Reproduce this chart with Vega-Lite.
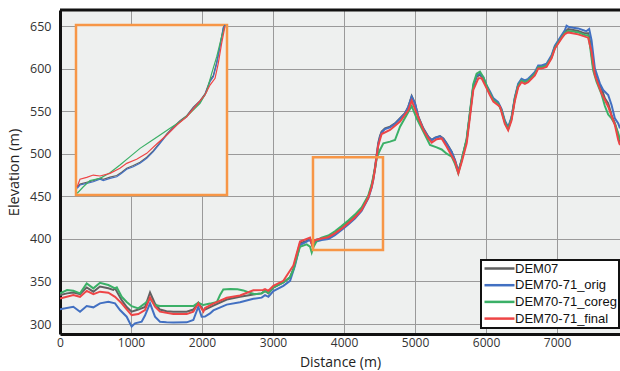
{
  "$schema": "https://vega.github.io/schema/vega-lite/v6.json",
  "width": 560,
  "height": 324,
  "autosize": "none",
  "padding": {"left": 60, "top": 10, "right": 0, "bottom": 37},
  "background": "white",
  "config": {
    "view": {"fill": "#eef0ef", "stroke": null},
    "font": "Open Sans",
    "axis": {
      "grid": true, "gridColor": "#9a9a9a", "gridWidth": 1,
      "domainColor": "#111111", "domainWidth": 3,
      "ticks": false, "labelFlush": false, "format": "d",
      "labelFont": "Open Sans", "labelFontSize": 12.5, "labelColor": "#333333",
      "titleFont": "Open Sans", "titleFontSize": 14.5, "titleFontWeight": "normal", "titleColor": "#222222"
    }
  },
  "datasets": {
    "box": [{"xs": 3563, "xe": 4549, "ys": 387, "ye": 496}],
    "main": [
      {"series":"DEM07","dist":0,"elev":334},{"series":"DEM07","dist":100,"elev":336},{"series":"DEM07","dist":188,"elev":337},{"series":"DEM07","dist":282,"elev":335},{"series":"DEM07","dist":376,"elev":343},{"series":"DEM07","dist":470,"elev":338},{"series":"DEM07","dist":563,"elev":344},{"series":"DEM07","dist":681,"elev":342},{"series":"DEM07","dist":750,"elev":340},{"series":"DEM07","dist":775,"elev":342},{"series":"DEM07","dist":869,"elev":328},{"series":"DEM07","dist":939,"elev":320},{"series":"DEM07","dist":1009,"elev":314.5},{"series":"DEM07","dist":1103,"elev":317},{"series":"DEM07","dist":1197,"elev":320},{"series":"DEM07","dist":1268,"elev":337},{"series":"DEM07","dist":1338,"elev":324},{"series":"DEM07","dist":1408,"elev":317},{"series":"DEM07","dist":1500,"elev":315},{"series":"DEM07","dist":1596,"elev":314.5},{"series":"DEM07","dist":1784,"elev":314.5},{"series":"DEM07","dist":1878,"elev":317},{"series":"DEM07","dist":1948,"elev":325},{"series":"DEM07","dist":2019,"elev":316},{"series":"DEM07","dist":2042,"elev":317},{"series":"DEM07","dist":2160,"elev":321.6},{"series":"DEM07","dist":2348,"elev":328.8},{"series":"DEM07","dist":2535,"elev":332},{"series":"DEM07","dist":2723,"elev":334.8},{"series":"DEM07","dist":2840,"elev":336},{"series":"DEM07","dist":2888,"elev":339},{"series":"DEM07","dist":2935,"elev":336},{"series":"DEM07","dist":3005,"elev":342.8},{"series":"DEM07","dist":3146,"elev":348.8},{"series":"DEM07","dist":3240,"elev":354.8},{"series":"DEM07","dist":3287,"elev":364.8},{"series":"DEM07","dist":3334,"elev":380.8},{"series":"DEM07","dist":3380,"elev":394.8},{"series":"DEM07","dist":3474,"elev":397.6},{"series":"DEM07","dist":3521,"elev":400},{"series":"DEM07","dist":3553,"elev":393},{"series":"DEM07","dist":3591,"elev":398.7},{"series":"DEM07","dist":3685,"elev":400.7},{"series":"DEM07","dist":3779,"elev":401.8},{"series":"DEM07","dist":3872,"elev":406.5},{"series":"DEM07","dist":3966,"elev":412.4},{"series":"DEM07","dist":4060,"elev":419.1},{"series":"DEM07","dist":4154,"elev":426.1},{"series":"DEM07","dist":4248,"elev":434.7},{"series":"DEM07","dist":4342,"elev":449},{"series":"DEM07","dist":4389,"elev":462},{"series":"DEM07","dist":4413,"elev":472},{"series":"DEM07","dist":4436,"elev":484},{"series":"DEM07","dist":4460,"elev":499},{"series":"DEM07","dist":4483,"elev":513},{"series":"DEM07","dist":4507,"elev":521},{"series":"DEM07","dist":4530,"elev":526},{"series":"DEM07","dist":4577,"elev":529.9},{"series":"DEM07","dist":4648,"elev":531.8},{"series":"DEM07","dist":4718,"elev":535.7},{"series":"DEM07","dist":4789,"elev":541.6},{"series":"DEM07","dist":4859,"elev":547.5},{"series":"DEM07","dist":4906,"elev":555.3},{"series":"DEM07","dist":4953,"elev":567.8},{"series":"DEM07","dist":5000,"elev":559.2},{"series":"DEM07","dist":5047,"elev":543.5},{"series":"DEM07","dist":5117,"elev":529.9},{"series":"DEM07","dist":5188,"elev":520},{"series":"DEM07","dist":5235,"elev":516.1},{"series":"DEM07","dist":5282,"elev":518.9},{"series":"DEM07","dist":5352,"elev":520.8},{"series":"DEM07","dist":5399,"elev":518},{"series":"DEM07","dist":5446,"elev":512.2},{"series":"DEM07","dist":5516,"elev":502.4},{"series":"DEM07","dist":5563,"elev":492.6},{"series":"DEM07","dist":5610,"elev":479},{"series":"DEM07","dist":5657,"elev":492.6},{"series":"DEM07","dist":5728,"elev":516.1},{"series":"DEM07","dist":5775,"elev":547.5},{"series":"DEM07","dist":5821,"elev":578.8},{"series":"DEM07","dist":5868,"elev":590.5},{"series":"DEM07","dist":5915,"elev":592.5},{"series":"DEM07","dist":5962,"elev":588.6},{"series":"DEM07","dist":6009,"elev":578.8},{"series":"DEM07","dist":6054,"elev":572},{"series":"DEM07","dist":6101,"elev":564},{"series":"DEM07","dist":6171,"elev":559.1},{"series":"DEM07","dist":6218,"elev":551.3},{"series":"DEM07","dist":6265,"elev":537.6},{"series":"DEM07","dist":6312,"elev":529.8},{"series":"DEM07","dist":6359,"elev":541.5},{"series":"DEM07","dist":6406,"elev":565},{"series":"DEM07","dist":6453,"elev":580.7},{"series":"DEM07","dist":6500,"elev":586.6},{"series":"DEM07","dist":6547,"elev":584.6},{"series":"DEM07","dist":6594,"elev":586.6},{"series":"DEM07","dist":6641,"elev":590.5},{"series":"DEM07","dist":6688,"elev":594.4},{"series":"DEM07","dist":6735,"elev":602.2},{"series":"DEM07","dist":6782,"elev":602.2},{"series":"DEM07","dist":6852,"elev":604.2},{"series":"DEM07","dist":6923,"elev":614},{"series":"DEM07","dist":6970,"elev":625.7},{"series":"DEM07","dist":7017,"elev":631.6},{"series":"DEM07","dist":7064,"elev":637.5},{"series":"DEM07","dist":7110,"elev":643.3},{"series":"DEM07","dist":7157,"elev":646.5},{"series":"DEM07","dist":7228,"elev":645.3},{"series":"DEM07","dist":7298,"elev":644.1},{"series":"DEM07","dist":7392,"elev":641.4},{"series":"DEM07","dist":7439,"elev":641.4},{"series":"DEM07","dist":7462,"elev":633.5},{"series":"DEM07","dist":7509,"elev":602.2},{"series":"DEM07","dist":7556,"elev":588.5},{"series":"DEM07","dist":7627,"elev":576.8},{"series":"DEM07","dist":7674,"elev":565},{"series":"DEM07","dist":7721,"elev":559.1},{"series":"DEM07","dist":7768,"elev":545.4},{"series":"DEM07","dist":7815,"elev":535.7},{"series":"DEM07","dist":7862,"elev":522},{"series":"DEM07","dist":7887,"elev":511},

      {"series":"DEM70-71_orig","dist":0,"elev":317.2},{"series":"DEM70-71_orig","dist":188,"elev":320.3},{"series":"DEM70-71_orig","dist":282,"elev":314.5},{"series":"DEM70-71_orig","dist":376,"elev":321.1},{"series":"DEM70-71_orig","dist":470,"elev":319.6},{"series":"DEM70-71_orig","dist":563,"elev":324.3},{"series":"DEM70-71_orig","dist":681,"elev":326.2},{"series":"DEM70-71_orig","dist":775,"elev":324.3},{"series":"DEM70-71_orig","dist":845,"elev":316.4},{"series":"DEM70-71_orig","dist":939,"elev":308.6},{"series":"DEM70-71_orig","dist":1009,"elev":297},{"series":"DEM70-71_orig","dist":1056,"elev":300.8},{"series":"DEM70-71_orig","dist":1150,"elev":302.7},{"series":"DEM70-71_orig","dist":1197,"elev":310},{"series":"DEM70-71_orig","dist":1268,"elev":324.3},{"series":"DEM70-71_orig","dist":1338,"elev":308.6},{"series":"DEM70-71_orig","dist":1408,"elev":302.7},{"series":"DEM70-71_orig","dist":1500,"elev":302},{"series":"DEM70-71_orig","dist":1596,"elev":301.9},{"series":"DEM70-71_orig","dist":1784,"elev":302},{"series":"DEM70-71_orig","dist":1878,"elev":304.7},{"series":"DEM70-71_orig","dist":1948,"elev":320.3},{"series":"DEM70-71_orig","dist":1995,"elev":308.6},{"series":"DEM70-71_orig","dist":2042,"elev":308.8},{"series":"DEM70-71_orig","dist":2113,"elev":312.5},{"series":"DEM70-71_orig","dist":2160,"elev":316},{"series":"DEM70-71_orig","dist":2348,"elev":322.8},{"series":"DEM70-71_orig","dist":2535,"elev":325.6},{"series":"DEM70-71_orig","dist":2723,"elev":329.6},{"series":"DEM70-71_orig","dist":2840,"elev":331},{"series":"DEM70-71_orig","dist":2888,"elev":334},{"series":"DEM70-71_orig","dist":2935,"elev":332},{"series":"DEM70-71_orig","dist":3005,"elev":338.8},{"series":"DEM70-71_orig","dist":3146,"elev":344.8},{"series":"DEM70-71_orig","dist":3240,"elev":350.8},{"series":"DEM70-71_orig","dist":3310,"elev":368.8},{"series":"DEM70-71_orig","dist":3380,"elev":392.8},{"series":"DEM70-71_orig","dist":3474,"elev":396.8},{"series":"DEM70-71_orig","dist":3521,"elev":399},{"series":"DEM70-71_orig","dist":3553,"elev":393},{"series":"DEM70-71_orig","dist":3591,"elev":396.5},{"series":"DEM70-71_orig","dist":3685,"elev":398.7},{"series":"DEM70-71_orig","dist":3779,"elev":399.8},{"series":"DEM70-71_orig","dist":3872,"elev":404.5},{"series":"DEM70-71_orig","dist":3966,"elev":410.4},{"series":"DEM70-71_orig","dist":4060,"elev":417},{"series":"DEM70-71_orig","dist":4154,"elev":424},{"series":"DEM70-71_orig","dist":4248,"elev":432.7},{"series":"DEM70-71_orig","dist":4342,"elev":447.5},{"series":"DEM70-71_orig","dist":4389,"elev":460},{"series":"DEM70-71_orig","dist":4413,"elev":470},{"series":"DEM70-71_orig","dist":4436,"elev":482},{"series":"DEM70-71_orig","dist":4460,"elev":497},{"series":"DEM70-71_orig","dist":4483,"elev":511},{"series":"DEM70-71_orig","dist":4507,"elev":519.5},{"series":"DEM70-71_orig","dist":4530,"elev":525},{"series":"DEM70-71_orig","dist":4577,"elev":529},{"series":"DEM70-71_orig","dist":4648,"elev":531},{"series":"DEM70-71_orig","dist":4718,"elev":535},{"series":"DEM70-71_orig","dist":4789,"elev":541},{"series":"DEM70-71_orig","dist":4859,"elev":547},{"series":"DEM70-71_orig","dist":4906,"elev":555},{"series":"DEM70-71_orig","dist":4953,"elev":567},{"series":"DEM70-71_orig","dist":5000,"elev":559},{"series":"DEM70-71_orig","dist":5047,"elev":543},{"series":"DEM70-71_orig","dist":5117,"elev":529},{"series":"DEM70-71_orig","dist":5188,"elev":519.5},{"series":"DEM70-71_orig","dist":5235,"elev":516},{"series":"DEM70-71_orig","dist":5282,"elev":518.5},{"series":"DEM70-71_orig","dist":5352,"elev":520.5},{"series":"DEM70-71_orig","dist":5399,"elev":517.5},{"series":"DEM70-71_orig","dist":5446,"elev":511.5},{"series":"DEM70-71_orig","dist":5516,"elev":502},{"series":"DEM70-71_orig","dist":5563,"elev":492},{"series":"DEM70-71_orig","dist":5610,"elev":479},{"series":"DEM70-71_orig","dist":5657,"elev":492.6},{"series":"DEM70-71_orig","dist":5728,"elev":516.5},{"series":"DEM70-71_orig","dist":5775,"elev":548},{"series":"DEM70-71_orig","dist":5821,"elev":579.5},{"series":"DEM70-71_orig","dist":5868,"elev":592},{"series":"DEM70-71_orig","dist":5915,"elev":594},{"series":"DEM70-71_orig","dist":5962,"elev":590},{"series":"DEM70-71_orig","dist":6009,"elev":580},{"series":"DEM70-71_orig","dist":6054,"elev":573.5},{"series":"DEM70-71_orig","dist":6101,"elev":565.5},{"series":"DEM70-71_orig","dist":6171,"elev":560.6},{"series":"DEM70-71_orig","dist":6218,"elev":552.8},{"series":"DEM70-71_orig","dist":6265,"elev":539},{"series":"DEM70-71_orig","dist":6312,"elev":531.3},{"series":"DEM70-71_orig","dist":6359,"elev":543},{"series":"DEM70-71_orig","dist":6406,"elev":566.5},{"series":"DEM70-71_orig","dist":6453,"elev":582.2},{"series":"DEM70-71_orig","dist":6500,"elev":588},{"series":"DEM70-71_orig","dist":6547,"elev":586},{"series":"DEM70-71_orig","dist":6594,"elev":588},{"series":"DEM70-71_orig","dist":6641,"elev":592},{"series":"DEM70-71_orig","dist":6688,"elev":596},{"series":"DEM70-71_orig","dist":6735,"elev":603.7},{"series":"DEM70-71_orig","dist":6782,"elev":603.7},{"series":"DEM70-71_orig","dist":6852,"elev":605.7},{"series":"DEM70-71_orig","dist":6923,"elev":615.5},{"series":"DEM70-71_orig","dist":6970,"elev":627},{"series":"DEM70-71_orig","dist":7017,"elev":633},{"series":"DEM70-71_orig","dist":7064,"elev":639},{"series":"DEM70-71_orig","dist":7110,"elev":645},{"series":"DEM70-71_orig","dist":7134,"elev":650.4},{"series":"DEM70-71_orig","dist":7157,"elev":649.2},{"series":"DEM70-71_orig","dist":7228,"elev":648},{"series":"DEM70-71_orig","dist":7298,"elev":647.2},{"series":"DEM70-71_orig","dist":7392,"elev":644.5},{"series":"DEM70-71_orig","dist":7416,"elev":644.1},{"series":"DEM70-71_orig","dist":7453,"elev":646.5},{"series":"DEM70-71_orig","dist":7486,"elev":633.5},{"series":"DEM70-71_orig","dist":7533,"elev":600.3},{"series":"DEM70-71_orig","dist":7603,"elev":582.6},{"series":"DEM70-71_orig","dist":7650,"elev":574.8},{"series":"DEM70-71_orig","dist":7721,"elev":568.9},{"series":"DEM70-71_orig","dist":7768,"elev":557.2},{"series":"DEM70-71_orig","dist":7815,"elev":541.5},{"series":"DEM70-71_orig","dist":7862,"elev":535.7},{"series":"DEM70-71_orig","dist":7887,"elev":529.8},

      {"series":"DEM70-71_coreg","dist":0,"elev":336},{"series":"DEM70-71_coreg","dist":100,"elev":340},{"series":"DEM70-71_coreg","dist":188,"elev":339},{"series":"DEM70-71_coreg","dist":282,"elev":336},{"series":"DEM70-71_coreg","dist":376,"elev":347.7},{"series":"DEM70-71_coreg","dist":470,"elev":341.9},{"series":"DEM70-71_coreg","dist":563,"elev":348.5},{"series":"DEM70-71_coreg","dist":681,"elev":345.8},{"series":"DEM70-71_coreg","dist":775,"elev":341.9},{"series":"DEM70-71_coreg","dist":800,"elev":343},{"series":"DEM70-71_coreg","dist":869,"elev":332},{"series":"DEM70-71_coreg","dist":939,"elev":326},{"series":"DEM70-71_coreg","dist":1009,"elev":321},{"series":"DEM70-71_coreg","dist":1103,"elev":318.4},{"series":"DEM70-71_coreg","dist":1197,"elev":324.3},{"series":"DEM70-71_coreg","dist":1268,"elev":330},{"series":"DEM70-71_coreg","dist":1338,"elev":322.3},{"series":"DEM70-71_coreg","dist":1408,"elev":321.1},{"series":"DEM70-71_coreg","dist":1600,"elev":321.1},{"series":"DEM70-71_coreg","dist":1878,"elev":321.1},{"series":"DEM70-71_coreg","dist":1948,"elev":325},{"series":"DEM70-71_coreg","dist":2019,"elev":322.3},{"series":"DEM70-71_coreg","dist":2113,"elev":324},{"series":"DEM70-71_coreg","dist":2210,"elev":326},{"series":"DEM70-71_coreg","dist":2254,"elev":334},{"series":"DEM70-71_coreg","dist":2300,"elev":340.5},{"series":"DEM70-71_coreg","dist":2400,"elev":341},{"series":"DEM70-71_coreg","dist":2500,"elev":340.8},{"series":"DEM70-71_coreg","dist":2582,"elev":339.5},{"series":"DEM70-71_coreg","dist":2660,"elev":337},{"series":"DEM70-71_coreg","dist":2747,"elev":335},{"series":"DEM70-71_coreg","dist":2840,"elev":336},{"series":"DEM70-71_coreg","dist":2888,"elev":339},{"series":"DEM70-71_coreg","dist":2935,"elev":336.5},{"series":"DEM70-71_coreg","dist":3005,"elev":343},{"series":"DEM70-71_coreg","dist":3146,"elev":349},{"series":"DEM70-71_coreg","dist":3240,"elev":355},{"series":"DEM70-71_coreg","dist":3287,"elev":364},{"series":"DEM70-71_coreg","dist":3334,"elev":378},{"series":"DEM70-71_coreg","dist":3380,"elev":390.8},{"series":"DEM70-71_coreg","dist":3474,"elev":393.6},{"series":"DEM70-71_coreg","dist":3521,"elev":391},{"series":"DEM70-71_coreg","dist":3545,"elev":384},{"series":"DEM70-71_coreg","dist":3568,"elev":390},{"series":"DEM70-71_coreg","dist":3615,"elev":397.6},{"series":"DEM70-71_coreg","dist":3685,"elev":401.5},{"series":"DEM70-71_coreg","dist":3779,"elev":404},{"series":"DEM70-71_coreg","dist":3872,"elev":409},{"series":"DEM70-71_coreg","dist":3966,"elev":415},{"series":"DEM70-71_coreg","dist":4060,"elev":421.5},{"series":"DEM70-71_coreg","dist":4154,"elev":428.5},{"series":"DEM70-71_coreg","dist":4248,"elev":437},{"series":"DEM70-71_coreg","dist":4342,"elev":451},{"series":"DEM70-71_coreg","dist":4389,"elev":464},{"series":"DEM70-71_coreg","dist":4436,"elev":482},{"series":"DEM70-71_coreg","dist":4460,"elev":494},{"series":"DEM70-71_coreg","dist":4483,"elev":500},{"series":"DEM70-71_coreg","dist":4507,"elev":504.4},{"series":"DEM70-71_coreg","dist":4554,"elev":512.2},{"series":"DEM70-71_coreg","dist":4648,"elev":514.2},{"series":"DEM70-71_coreg","dist":4718,"elev":516.1},{"series":"DEM70-71_coreg","dist":4789,"elev":531.8},{"series":"DEM70-71_coreg","dist":4882,"elev":545.5},{"series":"DEM70-71_coreg","dist":4953,"elev":556.1},{"series":"DEM70-71_coreg","dist":5023,"elev":541.6},{"series":"DEM70-71_coreg","dist":5117,"elev":526},{"series":"DEM70-71_coreg","dist":5211,"elev":510.3},{"series":"DEM70-71_coreg","dist":5305,"elev":507.5},{"series":"DEM70-71_coreg","dist":5375,"elev":505},{"series":"DEM70-71_coreg","dist":5446,"elev":500},{"series":"DEM70-71_coreg","dist":5516,"elev":496.6},{"series":"DEM70-71_coreg","dist":5563,"elev":488},{"series":"DEM70-71_coreg","dist":5610,"elev":477},{"series":"DEM70-71_coreg","dist":5657,"elev":493},{"series":"DEM70-71_coreg","dist":5728,"elev":518},{"series":"DEM70-71_coreg","dist":5775,"elev":550},{"series":"DEM70-71_coreg","dist":5821,"elev":582},{"series":"DEM70-71_coreg","dist":5868,"elev":594},{"series":"DEM70-71_coreg","dist":5915,"elev":596.4},{"series":"DEM70-71_coreg","dist":5962,"elev":590},{"series":"DEM70-71_coreg","dist":6009,"elev":580},{"series":"DEM70-71_coreg","dist":6054,"elev":571},{"series":"DEM70-71_coreg","dist":6101,"elev":563.5},{"series":"DEM70-71_coreg","dist":6171,"elev":558.5},{"series":"DEM70-71_coreg","dist":6218,"elev":550.5},{"series":"DEM70-71_coreg","dist":6265,"elev":537},{"series":"DEM70-71_coreg","dist":6312,"elev":529},{"series":"DEM70-71_coreg","dist":6359,"elev":541},{"series":"DEM70-71_coreg","dist":6406,"elev":564.5},{"series":"DEM70-71_coreg","dist":6453,"elev":580},{"series":"DEM70-71_coreg","dist":6500,"elev":586},{"series":"DEM70-71_coreg","dist":6547,"elev":584},{"series":"DEM70-71_coreg","dist":6594,"elev":586},{"series":"DEM70-71_coreg","dist":6641,"elev":590},{"series":"DEM70-71_coreg","dist":6688,"elev":594},{"series":"DEM70-71_coreg","dist":6735,"elev":601.5},{"series":"DEM70-71_coreg","dist":6782,"elev":601.5},{"series":"DEM70-71_coreg","dist":6852,"elev":603.5},{"series":"DEM70-71_coreg","dist":6923,"elev":613},{"series":"DEM70-71_coreg","dist":6970,"elev":624.5},{"series":"DEM70-71_coreg","dist":7017,"elev":630.5},{"series":"DEM70-71_coreg","dist":7064,"elev":636.5},{"series":"DEM70-71_coreg","dist":7110,"elev":642},{"series":"DEM70-71_coreg","dist":7157,"elev":644},{"series":"DEM70-71_coreg","dist":7228,"elev":643.5},{"series":"DEM70-71_coreg","dist":7298,"elev":642.5},{"series":"DEM70-71_coreg","dist":7392,"elev":639.5},{"series":"DEM70-71_coreg","dist":7439,"elev":639},{"series":"DEM70-71_coreg","dist":7462,"elev":628},{"series":"DEM70-71_coreg","dist":7509,"elev":598},{"series":"DEM70-71_coreg","dist":7556,"elev":584.6},{"series":"DEM70-71_coreg","dist":7627,"elev":570},{"series":"DEM70-71_coreg","dist":7674,"elev":556},{"series":"DEM70-71_coreg","dist":7721,"elev":546},{"series":"DEM70-71_coreg","dist":7768,"elev":541.5},{"series":"DEM70-71_coreg","dist":7815,"elev":535},{"series":"DEM70-71_coreg","dist":7862,"elev":524},{"series":"DEM70-71_coreg","dist":7887,"elev":516},

      {"series":"DEM70-71_final","dist":0,"elev":330},{"series":"DEM70-71_final","dist":188,"elev":334},{"series":"DEM70-71_final","dist":282,"elev":332},{"series":"DEM70-71_final","dist":376,"elev":339},{"series":"DEM70-71_final","dist":470,"elev":335},{"series":"DEM70-71_final","dist":563,"elev":338},{"series":"DEM70-71_final","dist":681,"elev":336.8},{"series":"DEM70-71_final","dist":775,"elev":332},{"series":"DEM70-71_final","dist":869,"elev":324.3},{"series":"DEM70-71_final","dist":939,"elev":317.2},{"series":"DEM70-71_final","dist":1009,"elev":310.5},{"series":"DEM70-71_final","dist":1103,"elev":311.7},{"series":"DEM70-71_final","dist":1197,"elev":316.4},{"series":"DEM70-71_final","dist":1268,"elev":331.3},{"series":"DEM70-71_final","dist":1338,"elev":320.3},{"series":"DEM70-71_final","dist":1408,"elev":314.5},{"series":"DEM70-71_final","dist":1596,"elev":311.7},{"series":"DEM70-71_final","dist":1784,"elev":311.7},{"series":"DEM70-71_final","dist":1878,"elev":314.5},{"series":"DEM70-71_final","dist":1948,"elev":324.3},{"series":"DEM70-71_final","dist":2019,"elev":314.5},{"series":"DEM70-71_final","dist":2042,"elev":318.8},{"series":"DEM70-71_final","dist":2160,"elev":324},{"series":"DEM70-71_final","dist":2348,"elev":330.8},{"series":"DEM70-71_final","dist":2535,"elev":333.6},{"series":"DEM70-71_final","dist":2723,"elev":339.6},{"series":"DEM70-71_final","dist":2860,"elev":340},{"series":"DEM70-71_final","dist":2888,"elev":341},{"series":"DEM70-71_final","dist":2935,"elev":339},{"series":"DEM70-71_final","dist":3005,"elev":344.8},{"series":"DEM70-71_final","dist":3146,"elev":350.8},{"series":"DEM70-71_final","dist":3287,"elev":368.8},{"series":"DEM70-71_final","dist":3380,"elev":396.8},{"series":"DEM70-71_final","dist":3474,"elev":400},{"series":"DEM70-71_final","dist":3521,"elev":401.6},{"series":"DEM70-71_final","dist":3553,"elev":392},{"series":"DEM70-71_final","dist":3591,"elev":398.5},{"series":"DEM70-71_final","dist":3685,"elev":400.5},{"series":"DEM70-71_final","dist":3779,"elev":402},{"series":"DEM70-71_final","dist":3872,"elev":406.5},{"series":"DEM70-71_final","dist":3966,"elev":412},{"series":"DEM70-71_final","dist":4060,"elev":418.5},{"series":"DEM70-71_final","dist":4154,"elev":425.5},{"series":"DEM70-71_final","dist":4248,"elev":434},{"series":"DEM70-71_final","dist":4342,"elev":448.5},{"series":"DEM70-71_final","dist":4389,"elev":461},{"series":"DEM70-71_final","dist":4413,"elev":470},{"series":"DEM70-71_final","dist":4436,"elev":482},{"series":"DEM70-71_final","dist":4460,"elev":497},{"series":"DEM70-71_final","dist":4483,"elev":510},{"series":"DEM70-71_final","dist":4530,"elev":523.2},{"series":"DEM70-71_final","dist":4648,"elev":527.9},{"series":"DEM70-71_final","dist":4789,"elev":537.7},{"series":"DEM70-71_final","dist":4906,"elev":551.4},{"series":"DEM70-71_final","dist":4953,"elev":562.3},{"series":"DEM70-71_final","dist":5023,"elev":547.5},{"series":"DEM70-71_final","dist":5117,"elev":528},{"series":"DEM70-71_final","dist":5188,"elev":518},{"series":"DEM70-71_final","dist":5235,"elev":513},{"series":"DEM70-71_final","dist":5305,"elev":517},{"series":"DEM70-71_final","dist":5375,"elev":518},{"series":"DEM70-71_final","dist":5446,"elev":508.3},{"series":"DEM70-71_final","dist":5563,"elev":490.7},{"series":"DEM70-71_final","dist":5610,"elev":477},{"series":"DEM70-71_final","dist":5657,"elev":490},{"series":"DEM70-71_final","dist":5728,"elev":512.2},{"series":"DEM70-71_final","dist":5821,"elev":574.9},{"series":"DEM70-71_final","dist":5892,"elev":588.6},{"series":"DEM70-71_final","dist":5938,"elev":588.6},{"series":"DEM70-71_final","dist":6009,"elev":576.8},{"series":"DEM70-71_final","dist":6054,"elev":569},{"series":"DEM70-71_final","dist":6103,"elev":561.2},{"series":"DEM70-71_final","dist":6197,"elev":555.3},{"series":"DEM70-71_final","dist":6265,"elev":535},{"series":"DEM70-71_final","dist":6312,"elev":527.5},{"series":"DEM70-71_final","dist":6359,"elev":539},{"series":"DEM70-71_final","dist":6406,"elev":562},{"series":"DEM70-71_final","dist":6453,"elev":578},{"series":"DEM70-71_final","dist":6500,"elev":584},{"series":"DEM70-71_final","dist":6547,"elev":582},{"series":"DEM70-71_final","dist":6594,"elev":584},{"series":"DEM70-71_final","dist":6641,"elev":588},{"series":"DEM70-71_final","dist":6688,"elev":592},{"series":"DEM70-71_final","dist":6735,"elev":600},{"series":"DEM70-71_final","dist":6782,"elev":600},{"series":"DEM70-71_final","dist":6852,"elev":602},{"series":"DEM70-71_final","dist":6923,"elev":612},{"series":"DEM70-71_final","dist":6970,"elev":623.5},{"series":"DEM70-71_final","dist":7017,"elev":629.5},{"series":"DEM70-71_final","dist":7064,"elev":635.5},{"series":"DEM70-71_final","dist":7110,"elev":640.5},{"series":"DEM70-71_final","dist":7157,"elev":642.5},{"series":"DEM70-71_final","dist":7298,"elev":640.2},{"series":"DEM70-71_final","dist":7439,"elev":636.3},{"series":"DEM70-71_final","dist":7486,"elev":619.8},{"series":"DEM70-71_final","dist":7533,"elev":592.4},{"series":"DEM70-71_final","dist":7627,"elev":570.9},{"series":"DEM70-71_final","dist":7721,"elev":555.2},{"series":"DEM70-71_final","dist":7815,"elev":533.7},{"series":"DEM70-71_final","dist":7862,"elev":516.1},{"series":"DEM70-71_final","dist":7887,"elev":510.2}
    ],
    "inset": [
      {"series":"DEM07","dist":3571,"elev":392},{"series":"DEM07","dist":3589,"elev":394},{"series":"DEM07","dist":3633,"elev":395.2},{"series":"DEM07","dist":3676,"elev":396.2},{"series":"DEM07","dist":3720,"elev":397.8},{"series":"DEM07","dist":3741,"elev":397},{"series":"DEM07","dist":3785,"elev":398.5},{"series":"DEM07","dist":3829,"elev":399.5},{"series":"DEM07","dist":3861,"elev":401.6},{"series":"DEM07","dist":3894,"elev":404.2},{"series":"DEM07","dist":3937,"elev":405.9},{"series":"DEM07","dist":3981,"elev":408},{"series":"DEM07","dist":4025,"elev":411.2},{"series":"DEM07","dist":4068,"elev":415.5},{"series":"DEM07","dist":4112,"elev":420.8},{"series":"DEM07","dist":4156,"elev":426.2},{"series":"DEM07","dist":4198,"elev":430.5},{"series":"DEM07","dist":4242,"elev":434.7},{"series":"DEM07","dist":4286,"elev":437.9},{"series":"DEM07","dist":4329,"elev":443.3},{"series":"DEM07","dist":4373,"elev":447.5},{"series":"DEM07","dist":4405,"elev":451.8},{"series":"DEM07","dist":4438,"elev":460.5},{"series":"DEM07","dist":4460,"elev":463.8},{"series":"DEM07","dist":4482,"elev":472.2},{"series":"DEM07","dist":4503,"elev":482.8},{"series":"DEM07","dist":4525,"elev":494.5},{"series":"DEM07","dist":4536,"elev":496},
      {"series":"DEM70-71_orig","dist":3571,"elev":391.3},{"series":"DEM70-71_orig","dist":3589,"elev":393.4},{"series":"DEM70-71_orig","dist":3633,"elev":394.5},{"series":"DEM70-71_orig","dist":3676,"elev":395.5},{"series":"DEM70-71_orig","dist":3720,"elev":397.1},{"series":"DEM70-71_orig","dist":3741,"elev":396.2},{"series":"DEM70-71_orig","dist":3785,"elev":397.7},{"series":"DEM70-71_orig","dist":3829,"elev":398.7},{"series":"DEM70-71_orig","dist":3861,"elev":400.9},{"series":"DEM70-71_orig","dist":3894,"elev":403.5},{"series":"DEM70-71_orig","dist":3937,"elev":405.1},{"series":"DEM70-71_orig","dist":3981,"elev":407.3},{"series":"DEM70-71_orig","dist":4025,"elev":410.5},{"series":"DEM70-71_orig","dist":4068,"elev":414.8},{"series":"DEM70-71_orig","dist":4112,"elev":420.1},{"series":"DEM70-71_orig","dist":4156,"elev":425.5},{"series":"DEM70-71_orig","dist":4198,"elev":429.8},{"series":"DEM70-71_orig","dist":4242,"elev":434},{"series":"DEM70-71_orig","dist":4286,"elev":437.2},{"series":"DEM70-71_orig","dist":4329,"elev":442.6},{"series":"DEM70-71_orig","dist":4373,"elev":446.8},{"series":"DEM70-71_orig","dist":4405,"elev":451.1},{"series":"DEM70-71_orig","dist":4438,"elev":459.6},{"series":"DEM70-71_orig","dist":4460,"elev":462.8},{"series":"DEM70-71_orig","dist":4482,"elev":471.4},{"series":"DEM70-71_orig","dist":4503,"elev":482.1},{"series":"DEM70-71_orig","dist":4525,"elev":493.9},{"series":"DEM70-71_orig","dist":4536,"elev":496},
      {"series":"DEM70-71_coreg","dist":3571,"elev":388.1},{"series":"DEM70-71_coreg","dist":3611,"elev":392.3},{"series":"DEM70-71_coreg","dist":3654,"elev":396.2},{"series":"DEM70-71_coreg","dist":3720,"elev":397.7},{"series":"DEM70-71_coreg","dist":3785,"elev":401.3},{"series":"DEM70-71_coreg","dist":3850,"elev":406.2},{"series":"DEM70-71_coreg","dist":3916,"elev":411.6},{"series":"DEM70-71_coreg","dist":3981,"elev":416.9},{"series":"DEM70-71_coreg","dist":4046,"elev":421.2},{"series":"DEM70-71_coreg","dist":4112,"elev":425.5},{"series":"DEM70-71_coreg","dist":4177,"elev":429.8},{"series":"DEM70-71_coreg","dist":4242,"elev":434},{"series":"DEM70-71_coreg","dist":4307,"elev":439.4},{"series":"DEM70-71_coreg","dist":4373,"elev":445.8},{"series":"DEM70-71_coreg","dist":4416,"elev":453.2},{"series":"DEM70-71_coreg","dist":4449,"elev":465},{"series":"DEM70-71_coreg","dist":4482,"elev":475.7},{"series":"DEM70-71_coreg","dist":4514,"elev":488.5},{"series":"DEM70-71_coreg","dist":4536,"elev":495.3},
      {"series":"DEM70-71_final","dist":3571,"elev":392.3},{"series":"DEM70-71_final","dist":3589,"elev":397.1},{"series":"DEM70-71_final","dist":3633,"elev":398.3},{"series":"DEM70-71_final","dist":3676,"elev":399.8},{"series":"DEM70-71_final","dist":3720,"elev":399.2},{"series":"DEM70-71_final","dist":3785,"elev":400.9},{"series":"DEM70-71_final","dist":3850,"elev":404.1},{"series":"DEM70-71_final","dist":3894,"elev":407.3},{"series":"DEM70-71_final","dist":3959,"elev":409.9},{"series":"DEM70-71_final","dist":4025,"elev":413.7},{"series":"DEM70-71_final","dist":4090,"elev":419.7},{"series":"DEM70-71_final","dist":4156,"elev":425.5},{"series":"DEM70-71_final","dist":4221,"elev":431.9},{"series":"DEM70-71_final","dist":4286,"elev":437.2},{"series":"DEM70-71_final","dist":4351,"elev":444.7},{"series":"DEM70-71_final","dist":4405,"elev":451.1},{"series":"DEM70-71_final","dist":4438,"elev":457.5},{"series":"DEM70-71_final","dist":4471,"elev":461.8},{"series":"DEM70-71_final","dist":4492,"elev":471.4},{"series":"DEM70-71_final","dist":4514,"elev":484.2},{"series":"DEM70-71_final","dist":4536,"elev":495.3}
    ]
  },
  "layer": [
    {
      "layer": [
        {
          "data": {"name": "main"},
          "mark": {"type": "line", "strokeWidth": 2, "clip": true},
          "encoding": {
            "x": {"field": "dist", "type": "quantitative", "title": "Distance (m)",
                  "scale": {"domain": [0, 7887], "nice": false, "zero": false},
                  "axis": {"values": [0, 1000, 2000, 3000, 4000, 5000, 6000, 7000], "labelPadding": 3, "titlePadding": 7, "labelFontSize": 12, "titleFontSize": 14}},
            "y": {"field": "elev", "type": "quantitative", "title": "Elevation (m)",
                  "scale": {"domain": [288.3, 668.8], "nice": false, "zero": false},
                  "axis": {"values": [300, 350, 400, 450, 500, 550, 600, 650], "labelPadding": 9, "titlePadding": 8}},
            "color": {"field": "series", "type": "nominal",
                      "scale": {"domain": ["DEM07", "DEM70-71_orig", "DEM70-71_coreg", "DEM70-71_final"],
                                "range": ["#616161", "#4270c2", "#3bb067", "#ee4546"]},
                      "legend": {"title": null, "orient": "none", "legendX": 421, "legendY": 250,
                                 "padding": 2, "strokeColor": "#111111", "fillColor": "white",
                                 "labelFont": "Liberation Sans", "labelFontSize": 13, "labelColor": "#111111",
                                 "symbolType": "M-1,0H5", "symbolSize": 100, "symbolStrokeWidth": 2.5,
                                 "labelOffset": 19, "rowPadding": 2.7,
                                 "encode": {"legend": {"update": {"strokeWidth": {"value": 2}}}}}},
            "order": {"field": "dist", "type": "quantitative"}
          }
        },
        {
          "data": {"name": "box"},
          "mark": {"type": "rect", "fill": "transparent", "stroke": "#f79646", "strokeWidth": 2.5},
          "encoding": {
            "x": {"field": "xs", "type": "quantitative"},
            "x2": {"field": "xe"},
            "y": {"field": "ys", "type": "quantitative"},
            "y2": {"field": "ye"}
          }
        },
        {
          "data": {"values": [{"top": 668.8}]},
          "mark": {"type": "rule", "color": "#111111", "strokeWidth": 3},
          "encoding": {"y": {"field": "top", "type": "quantitative"}}
        }
      ]
    },
    {
      "layer": [
        {
          "data": {"name": "box"},
          "mark": {"type": "rect", "fill": "#eef0ef", "stroke": "#f79646", "strokeWidth": 2.5},
          "encoding": {
            "x": {"field": "xs", "type": "quantitative", "axis": null,
                  "scale": {"domain": [3563, 4549], "range": [16, 167], "nice": false, "zero": false}},
            "x2": {"field": "xe"},
            "y": {"field": "ys", "type": "quantitative", "axis": null,
                  "scale": {"domain": [387, 496], "range": [185, 15], "nice": false, "zero": false}},
            "y2": {"field": "ye"}
          }
        },
        {
          "data": {"name": "inset"},
          "mark": {"type": "line", "strokeWidth": 1.2},
          "encoding": {
            "x": {"field": "dist", "type": "quantitative", "axis": null},
            "y": {"field": "elev", "type": "quantitative", "axis": null},
            "color": {"field": "series", "type": "nominal", "legend": null},
            "order": {"field": "dist", "type": "quantitative"}
          }
        }
      ]
    }
  ],
  "resolve": {"scale": {"x": "independent", "y": "independent"}}
}
